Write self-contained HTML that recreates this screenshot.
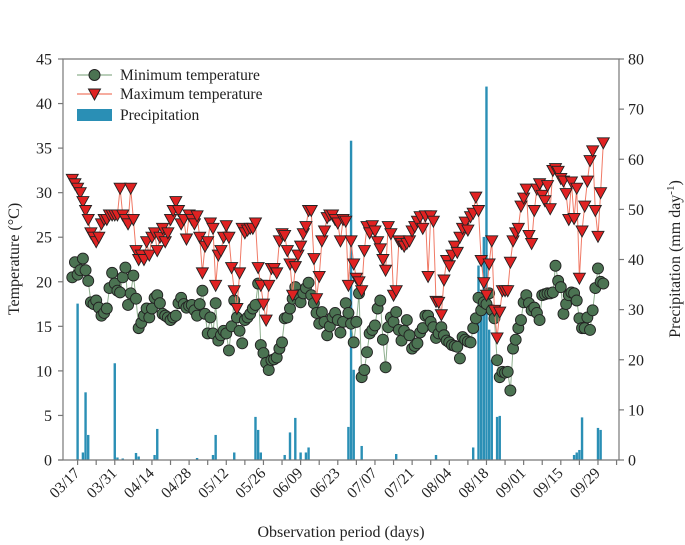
<!DOCTYPE html>
<html><head><meta charset="utf-8">
<style>
html,body{margin:0;padding:0;background:#fff;}
svg{display:block;font-family:"Liberation Serif",serif;}
</style></head>
<body>
<svg id="chart" width="685" height="545" viewBox="0 0 685 545" xmlns="http://www.w3.org/2000/svg">
<g id="bars"></g>
<g id="minLine"></g>
<g id="maxLine"></g>
<g id="axes"></g>
<g>
  <line x1="77" y1="75" x2="112" y2="75" stroke="#8fb08f" stroke-width="1.2"/>
  <circle cx="94.5" cy="75" r="5.5" fill="#4b7352" stroke="#222" stroke-width="1"/>
  <text x="120" y="80" font-size="15.5" fill="#222">Minimum temperature</text>
  <line x1="77" y1="94" x2="112" y2="94" stroke="#f07a66" stroke-width="1.2"/>
  <path d="M88.5,89 L100.5,89 L94.5,100 Z" fill="#e02222" stroke="#222" stroke-width="1"/>
  <text x="120" y="99" font-size="15.5" fill="#222">Maximum temperature</text>
  <rect x="77" y="109" width="35" height="12" fill="#2a8fb5"/>
  <text x="120" y="120" font-size="15.5" fill="#222">Precipitation</text>
</g>
<text x="0" y="0" transform="translate(19,259) rotate(-90)" text-anchor="middle" font-size="16" fill="#222">Temperature (°C)</text>
<text x="0" y="0" transform="translate(680,259) rotate(-90)" text-anchor="middle" font-size="16" fill="#222">Precipitation (mm day<tspan baseline-shift="super" font-size="11">-1</tspan>)</text>
<text x="341" y="537" text-anchor="middle" font-size="16" fill="#222">Observation period (days)</text>
</svg>
<script>
const startDay = -2;
const maxTemp = [31.5,31,30.5,30,29,28,27,25.5,25,24.5,25,26.5,
27,27,27.5,27.5,27.5,27.5,30.5,27.5,27,26.5,30.5,
27,23.5,22.5,23,22.5,24.5,23,25,25.5,23.5,
25,26,24.5,25.5,27,28,29,28,26.5,27,
24.8,27.5,27,26.5,27.4,25,21,24,24.5,26.6,
26,19.6,23,23.5,25,26.3,25,21.6,19,17,21,26,
25.5,25.8,26,26,26.6,21.6,19.6,17.5,15.7,19.6,
21.5,21.5,21,24.6,25.4,25.2,23.5,22,18.5,21.7,
23,24,25.4,26.2,28,28,22.6,18.1,20.6,24.6,
25.7,27.2,27.5,27.5,27,26.6,24.6,27,26.8,19.6,
24.6,22,20.4,20,19,23.5,26.2,25.5,26.3,25.7,
24.5,23.7,22.5,21.3,26.2,25.4,18.5,19,24.6,24.3,
24,24.3,24.6,25.7,26.2,26.8,27.3,26,27.4,20.6,
27.4,26.8,17.8,17.7,16.3,20.2,22.4,21.8,23,24,
23.3,25,26,26.7,25.8,27.3,27.7,29.5,28,22.4,
19.9,18.5,22,24.6,16.8,13.7,16.6,19,19,19,
22.2,24.6,25.5,26,28.5,29.4,30.4,25.2,24.3,28,
30.4,31,29.7,29.1,30.8,28.2,32.5,32.7,32.4,31.6,
31.3,29.9,27,31.2,27.1,30.5,20.4,25.7,28.5,31.3,
33.6,34.7,28,25.1,30,35.6];
const minTemp = [20.5,22.2,20.8,21.3,22.6,21.3,20.1,17.7,17.5,17.9,17.1,16.2,
16.5,17,19.3,21,19.8,19,18.8,20.5,21.6,17.4,18.7,
20.7,18.1,14.8,15.4,16.2,17,16,17,18.2,18.5,
17.6,16.4,16.2,16,15.7,16,16.2,17.6,18.2,17.5,
17.1,17.3,17.4,16.8,16.2,17.5,19,16.4,14.2,16,
14.2,17.6,13.4,14,14.5,14.2,12.3,15,17.9,16,14.5,13.1,
15.7,16,16.4,17,17.4,19.8,12.9,12,10.9,10.1,
11.2,11.3,11.5,12.5,13.2,15.9,16,17,18.1,19.4,
18.5,17.7,18.7,19.3,19.9,18.5,17.6,16.5,15.3,16.6,
15.5,14,15,16,16.5,15.7,14.3,15.5,17.6,16.5,
15.3,13.2,15.5,18.7,9.3,10.1,12.1,14.2,14.6,15.1,
17,17.9,13.5,10.4,14.9,16,15.5,16.6,14.6,13.4,
14.5,15.7,14,12.5,12.8,13.1,14.3,14.8,16.2,16.2,
15.5,14.9,13.7,14.2,14.9,14,13.4,13.2,12.9,12.8,
12.7,11.4,13.8,13.5,13.3,13.2,14.8,15.9,18.2,16.8,
17.7,17.5,18.7,16.8,15.9,11.2,9.3,9.9,9.8,9.9,
7.8,12.5,13.5,14.8,15.7,17.7,18.5,17.6,16.8,17.1,
16.5,15.7,18.5,18.6,18.7,18.7,18.8,21.8,20.1,19.4,
16.4,17.5,18.5,18.8,18.7,17.9,15.9,14.8,14.8,16,
14.6,16.8,19.3,21.5,20,19.8];
const precipDays = [0,2,3,4,14,15,17,22,23,29,30,45,51,52,59,67,68,69,78,80,82,84,86,87,102,103,104,107,120,135,149,151,152,153,154,155,156,158,159,187,188,189,190,196,197];
const precipVals = [31.2,1.5,13.5,5,19.3,0.5,0.3,1.4,0.7,1,6.2,0.4,1,5,1.5,8.6,6,1.5,1,5.5,8.4,1.5,1.5,2.5,6.6,63.7,18,2.8,1.2,1,2.5,38.8,30,44.5,74.5,26,20,8.6,8.8,1,1.5,2,8.5,6.4,6];
const leftTicks = [0,5,10,15,20,25,30,35,40,45];
const rightTicks = [0,10,20,30,40,50,60,70,80];
const dateLabels = ["03/17","03/31","04/14","04/28","05/12","05/26","06/09","06/23","07/07","07/21","08/04","08/18","09/01","09/15","09/29"];

const NS = "http://www.w3.org/2000/svg";
const X0 = 63, X1 = 619, Y0 = 460, Y1 = 59;
function xs(d){ return 77.6 + 2.655*d; }
function yT(t){ return Y0 - (Y0-Y1)*t/45; }
function yP(p){ return Y0 - (Y0-Y1)*p/80; }
function mk(tag, attrs, parent){
  const e = document.createElementNS(NS, tag);
  for (const k in attrs) e.setAttribute(k, attrs[k]);
  parent.appendChild(e); return e;
}
const bars = document.getElementById('bars');
precipDays.forEach((d,i)=>{
  const r = mk('rect',{x:xs(d)-1.2,y:yP(precipVals[i]),width:2.4,height:Y0-yP(precipVals[i]),fill:'#2a8fb5'},bars);
  
  
});
function series(arr, g, lineColor, kind){
  const pts = arr.map((v,i)=>xs(startDay+i).toFixed(1)+','+yT(v).toFixed(1)).join(' ');
  mk('polyline',{points:pts,fill:'none',stroke:lineColor,'stroke-width':1},g);
  arr.forEach((v,i)=>{
    const x = xs(startDay+i), y = yT(v);
    let m;
    if (kind==='c') m = mk('circle',{cx:x,cy:y,r:5.5,fill:'#4b7352',stroke:'#222','stroke-width':0.9},g);
    else m = mk('path',{d:`M${x-6},${y-5} L${x+6},${y-5} L${x},${y+6} Z`,fill:'#e02222',stroke:'#222','stroke-width':0.9},g);
    
    
  });
}
series(minTemp, document.getElementById('minLine'), '#8fb08f', 'c');
series(maxTemp, document.getElementById('maxLine'), '#f07a66', 't');

const ax = document.getElementById('axes');
mk('polyline',{points:`${X0},${Y0} ${X0},${Y1} ${X1},${Y1} ${X1},${Y0} ${X0},${Y0}`,fill:'none',stroke:'#777','stroke-width':1.2},ax);
leftTicks.forEach(t=>{
  mk('line',{x1:X0-5,y1:yT(t),x2:X0,y2:yT(t),stroke:'#777','stroke-width':1.2},ax);
  const tx = mk('text',{x:52,y:yT(t)+5.5,'text-anchor':'end','font-size':16,fill:'#222'},ax);
  tx.textContent = t;
  
  
});
rightTicks.forEach(p=>{
  mk('line',{x1:X1,y1:yP(p),x2:X1+5,y2:yP(p),stroke:'#777','stroke-width':1.2},ax);
  const tx = mk('text',{x:628,y:yP(p)+5.5,'font-size':16,fill:'#222'},ax);
  tx.textContent = p;
  
  
});
for (let d=0; d<=203; d+=7){
  mk('line',{x1:xs(d),y1:Y0,x2:xs(d),y2:Y0+5,stroke:'#777','stroke-width':1.2},ax);
}
mk('line',{x1:58,y1:Y0,x2:X0,y2:Y0,stroke:'#777','stroke-width':1.2},ax);
dateLabels.forEach((lab,i)=>{
  const x = xs(i*14);
  const tx = mk('text',{x:0,y:0,transform:`translate(${x+3},${Y0+14}) rotate(-45)`,'text-anchor':'end','font-size':15.5,fill:'#222'},ax);
  tx.textContent = lab;
  
  
});
</script>
</body></html>
